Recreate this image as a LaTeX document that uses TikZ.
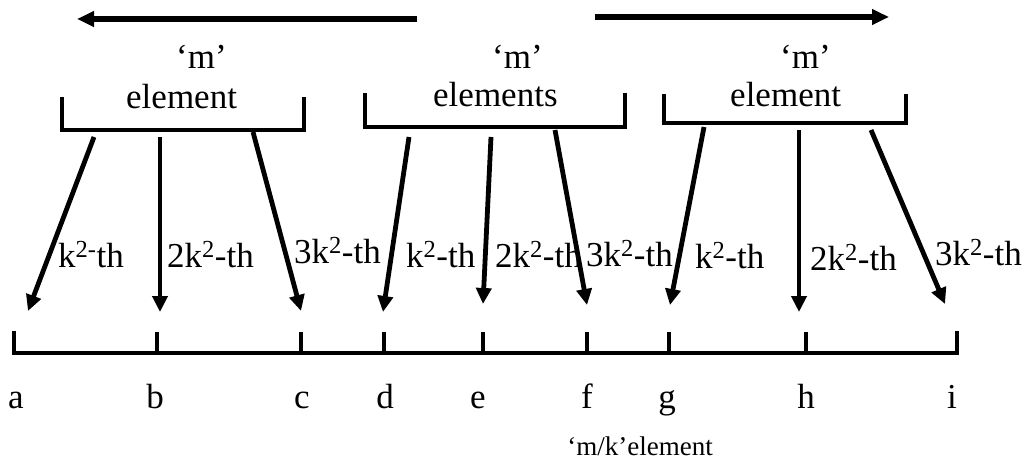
\documentclass[tikz,border=0pt]{standalone}
\usepackage{fontspec}
\setmainfont{Liberation Serif}
\usetikzlibrary{arrows.meta}
\begin{document}
\begin{tikzpicture}[x=1pt,y=-1pt,
  big/.style={inner sep=0pt, font=\fontsize{35}{40}\selectfont},
  lbl/.style={big, anchor=base west},
  ctr/.style={big, anchor=base},
  small/.style={inner sep=0pt, anchor=base, font=\fontsize{27}{32}\selectfont},
  arr/.style={line width=4.8pt, -{Triangle[length=16pt,width=15pt]}},
  toparr/.style={line width=5.2pt, -{Triangle[length=17pt,width=15pt]}},
  brk/.style={line width=4.8pt, line join=miter},
  axis/.style={line width=4.8pt, line join=miter},
  tick/.style={line width=4.8pt}]
\useasboundingbox (0,0) rectangle (1024,462);

% top direction arrows
\coordinate (tl1) at (417,19);
\coordinate (tl2) at (77,19);
\coordinate (tr1) at (595,17);
\coordinate (tr2) at (889,17);
\draw[toparr] (tl1) -- (tl2);
\draw[toparr] (tr1) -- (tr2);

% brackets
\draw[brk] (62,97) -- (62,130) -- (304,130) -- (304,97);
\draw[brk] (365,93) -- (365,127) -- (625,127) -- (625,93);
\draw[brk] (664,94) -- (664,123) -- (906,123) -- (906,94);

% bracket labels
\node[lbl] (m1) at (176,69) {‘m’};
\node[lbl] (e1) at (126,109) {element};
\node[lbl] (m2) at (492,69) {‘m’};
\node[lbl] (e2) at (433,107) {elements};
\node[lbl] (m3) at (780,69) {‘m’};
\node[lbl] (e3) at (730,107) {element};

% axis
\draw[axis] (14,331) -- (14,353) -- (957,353) -- (957,331);
\foreach \x in {157,301,384,483,587,669,806}{
  \draw[tick] (\x,353) -- (\x,332);
}

% arrow end points
\coordinate (s1) at (94,137);   \coordinate (t1) at (28,311);
\coordinate (s2) at (160,137);  \coordinate (t2) at (160,312);
\coordinate (s3) at (253,132);  \coordinate (t3) at (301,311);
\coordinate (s4) at (409,137);  \coordinate (t4) at (383,312);
\coordinate (s5) at (491,137);  \coordinate (t5) at (483,304);
\coordinate (s6) at (555,130);  \coordinate (t6) at (587,305);
\coordinate (s7) at (704,127);  \coordinate (t7) at (670,305);
\coordinate (s8) at (799,130);  \coordinate (t8) at (799,312);
\coordinate (s9) at (871,130);  \coordinate (t9) at (945,304);
\foreach \i in {1,...,9}{ \draw[arr] (s\i) -- (t\i); }

% arrow labels
\node[lbl] (l1) at (58,267) {k\textsuperscript{2-}th};
\node[lbl] (l2) at (167,267) {2k\textsuperscript{2}-th};
\node[lbl] (l3) at (294,263) {3k\textsuperscript{2}-th};
\node[lbl] (l4) at (406,267) {k\textsuperscript{2}-th};
\node[lbl] (l5) at (495,267) {2k\textsuperscript{2}-th};
\node[lbl] (l6) at (586,266) {3k\textsuperscript{2}-th};
\node[lbl] (l7) at (695,268) {k\textsuperscript{2}-th};
\node[lbl] (l8) at (810,270) {2k\textsuperscript{2}-th};
\node[lbl] (l9) at (935,265) {3k\textsuperscript{2}-th};

% point labels
\node[ctr] (a) at (16,408) {a};
\node[ctr] (b) at (155,408) {b};
\node[ctr] (c) at (302,408) {c};
\node[ctr] (d) at (385,408) {d};
\node[ctr] (e) at (478,408) {e};
\node[ctr] (f) at (587,408) {f};
\node[ctr] (g) at (667,408) {g};
\node[ctr] (h) at (806,408) {h};
\node[ctr] (i) at (952,408) {i};

\node[small] (mk) at (640,455) {‘m/k’element};
\end{tikzpicture}
\end{document}
